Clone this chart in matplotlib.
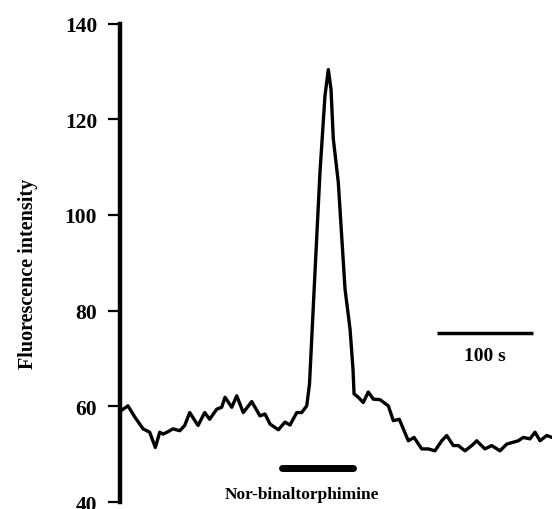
"""Fluorescence trace with nor-binaltorphimine application bar."""
import matplotlib

matplotlib.use("Agg")
import matplotlib.pyplot as plt

plt.rcParams["font.family"] = ["Liberation Serif", "DejaVu Serif"]
plt.rcParams["font.weight"] = "bold"

# trace (time in s, fluorescence intensity)
time_s = [0, 1.0, 8.3, 15.3, 24.0, 30.9, 36.8, 41.4, 44.8, 50.0, 55.2, 62.2,
          67.4, 72.6, 81.3, 88.2, 93.4, 100.7, 105.9, 109.4, 116.4, 121.6,
          128.4, 137.2, 145.8, 151.0, 156.3, 164.9, 171.9, 177.1, 184.1,
          189.3, 194.5, 197.4, 203.1, 208.3, 213.5, 217.0, 219.8, 222.2,
          227.4, 234.4, 239.6, 242.7, 243.8, 248.2, 253.4, 258.6, 263.9,
          270.8, 279.5, 284.7, 290.9, 295.1, 300.3, 306.3, 314.3, 321.1,
          328.1, 335.1, 340.3, 347.2, 352.4, 359.4, 366.4, 371.6, 375.0,
          380.2, 387.2, 395.8, 402.8, 409.7, 414.9, 420.1, 427.1, 432.3,
          437.5, 444.5, 450.0]
intensity = [59.0, 59.1, 60.1, 57.8, 55.3, 54.6, 51.4, 54.6, 54.2, 54.7, 55.3,
             54.9, 56.0, 58.7, 56.0, 58.7, 57.3, 59.4, 59.8, 61.9, 59.8, 62.2,
             58.7, 61.0, 58.0, 58.4, 56.3, 55.1, 56.7, 56.1, 58.7, 58.7, 60.1,
             64.7, 88.0, 108.9, 124.9, 130.4, 126.3, 115.9, 106.8, 84.5, 76.2,
             67.8, 62.6, 61.9, 60.8, 63.0, 61.5, 61.4, 60.1, 57.0, 57.3, 55.3,
             52.8, 53.5, 51.1, 51.1, 50.7, 52.8, 53.9, 51.8, 51.8, 50.7, 51.8,
             52.8, 52.1, 51.1, 51.8, 50.7, 52.1, 52.5, 52.8, 53.5, 53.2, 54.6,
             52.8, 53.9, 53.5]

drug_label = "Nor-binaltorphimine"
drug_start, drug_end, drug_level = 169, 243, 47.2
scale_start, scale_end, scale_level = 330, 430, 75.3
scale_label = "100 s"
y_ticks = [40, 60, 80, 100, 120, 140]

fig = plt.figure(figsize=(5.52, 5.10), dpi=100)
ax = fig.add_axes([0.2174, 0.0137, 0.7826, 0.938])
ax.plot(time_s, intensity, color="black", lw=2.4, solid_joinstyle="round")

# application bar + scale bar
ax.plot([drug_start, drug_end], [drug_level, drug_level], color="black",
        lw=5, solid_capstyle="round")
ax.text((drug_start + drug_end) / 2 - 16, 41.6, drug_label, ha="center",
        va="center", fontsize=12.5, fontweight="bold")
ax.plot([scale_start, scale_end], [scale_level, scale_level], color="black",
        lw=2.5, solid_capstyle="butt")
ax.text((scale_start + scale_end) / 2, 70.6, scale_label, ha="center",
        va="center", fontsize=14, fontweight="bold")

ax.set_xlim(0, 450)
ax.set_ylim(40, 140)
ax.set_yticks(y_ticks)
ax.tick_params(axis="y", length=8.5, width=1.6, labelsize=15.5, pad=8)
ax.set_xticks([])
for side in ("top", "right", "bottom"):
    ax.spines[side].set_visible(False)
ax.spines["left"].set_linewidth(3.2)
ax.set_ylabel("Fluorescence intensity", fontsize=14.5, fontweight="bold")
ax.yaxis.set_label_coords(-0.19, 0.48)
for lab in ax.get_yticklabels():
    lab.set_fontweight("bold")

fig.savefig("out.png", dpi=100)
